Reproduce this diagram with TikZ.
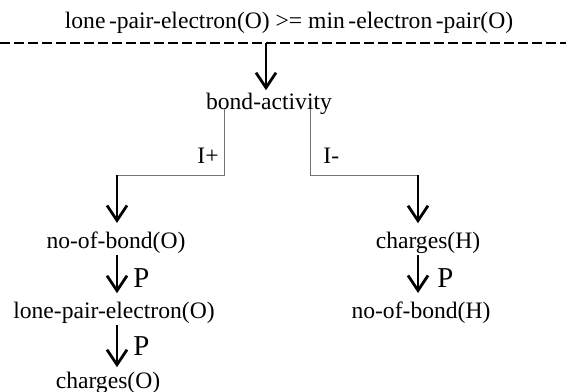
\documentclass[tikz,border=0pt]{standalone}
\usepackage{fontspec}
\setmainfont{Liberation Serif}
\usetikzlibrary{positioning,arrows.meta}

\begin{document}
\begin{tikzpicture}[
    x=0.5pt, y=-0.5pt,
    txt/.style={inner sep=1pt, font=\fontsize{11.8}{14}\selectfont},
    plbl/.style={inner sep=0pt, anchor=base west, font=\fontsize{14.4}{17}\selectfont},
    arrow/.style={-{Straight Barb[length=7.5pt,width=10pt]}, line width=1.4pt, shorten >=3pt},
    branch/.style={draw=black!55, line width=0.5pt},
    separator/.style={dash pattern=on 5pt off 2pt, line width=1pt}
]
    \useasboundingbox (0,0) rectangle (566,391);

    % Condition
    \node[txt, anchor=base] (cond) at (289,28) {lone\hspace{0.15em}-pair-electron(O) >= min\hspace{0.15em}-electron\hspace{0.15em}-pair(O)};
    \coordinate (sepL) at (0,43);
    \coordinate (sepR) at (566,43);
    \coordinate (split) at (266,43);
    \draw[separator] (sepL) -- (sepR);

    % Activity
    \node[txt, anchor=base] (activity) at (269,109) {bond-activity};
    \coordinate (stemO) at (224,0);
    \coordinate (stemH) at (310,0);
    \coordinate (forkO) at (117,175);
    \coordinate (forkH) at (418,175);
    \node[txt, inner sep=0pt, anchor=base east] (iplus) at (219,163) {I+};
    \node[txt, inner sep=0pt, anchor=base west] (iminus) at (323,163) {I-};

    % O branch
    \node[txt, anchor=base] (nbondO) at (116,248) {no-of-bond(O)};
    \node[txt, anchor=base] (lpairO) at (114,318) {lone-pair-electron(O)};
    \node[txt, anchor=base] (chargeO) at (108,388) {charges(O)};

    % H branch
    \node[txt, anchor=base] (chargeH) at (428,248) {charges(H)};
    \node[txt, anchor=base] (nbondH) at (421,318) {no-of-bond(H)};

    % Arrows
    \draw[arrow, shorten >=0pt] (split) -- (split |- activity.north);
    \draw[branch] (activity.base -| stemO) |- (forkO);
    \draw[branch] (activity.base -| stemH) |- (forkH);
    \draw[arrow] (forkO) -- (forkO |- nbondO.north);
    \draw[arrow] (forkH) -- (forkH |- chargeH.north);
    \draw[arrow] (forkO |- nbondO.south) -- (forkO |- lpairO.north);
    \draw[arrow, shorten >=1pt] (forkO |- lpairO.south) -- (forkO |- chargeO.north);
    \draw[arrow] (forkH |- chargeH.south) -- (forkH |- nbondH.north);

    % Labels
    \node[plbl] (pO1) at (133,287) {P};
    \node[plbl] (pO2) at (133,355) {P};
    \node[plbl] (pH) at (437,287) {P};
\end{tikzpicture}
\end{document}
